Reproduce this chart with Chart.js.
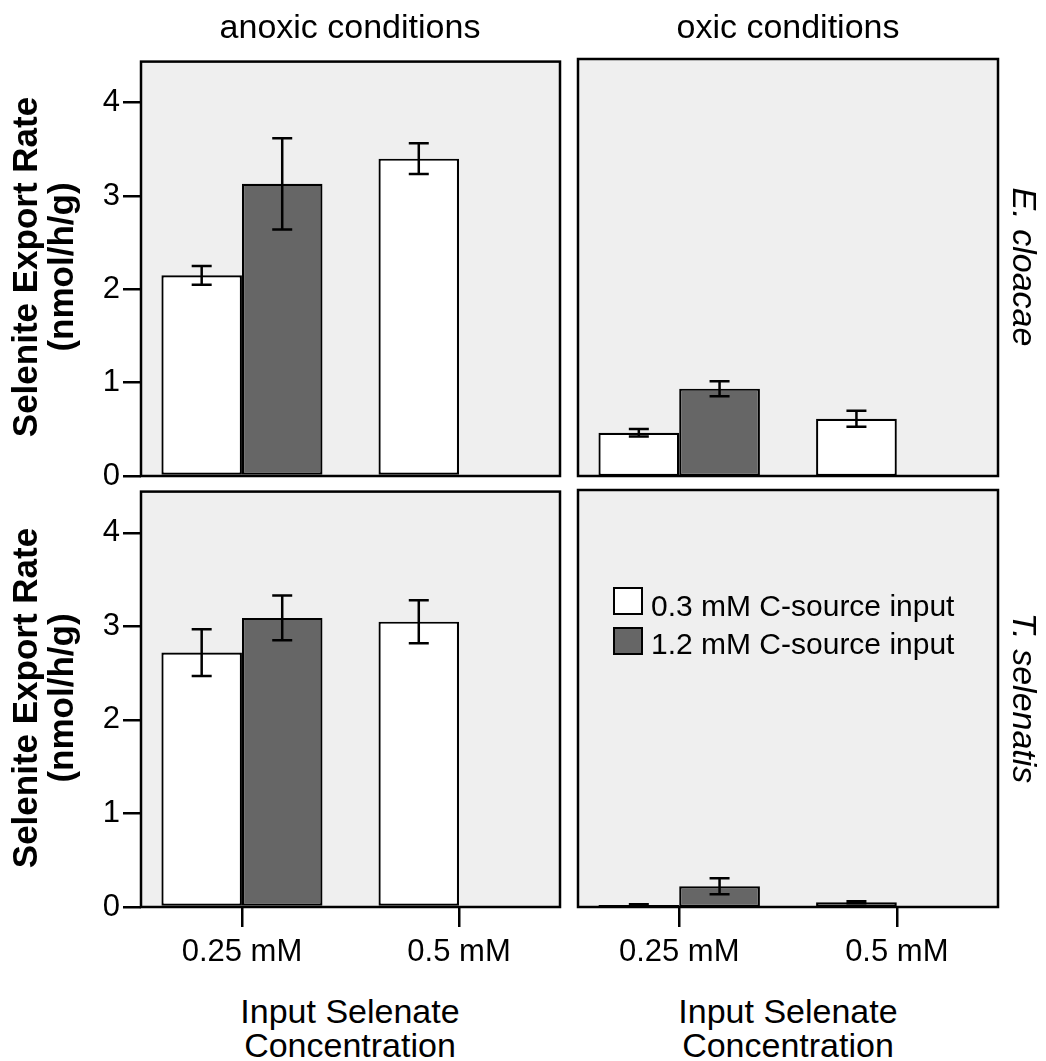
<!DOCTYPE html>
<html>
<head>
<meta charset="utf-8">
<title>Selenite export rate</title>
<script src="https://cdn.jsdelivr.net/npm/chart.js@4"></script>
<style>
  body { margin: 0; width: 1046px; height: 1061px; background: #fff; position: relative; overflow: hidden;
         font-family: "Liberation Sans", Arial, sans-serif; color: #000; }
  .panel { position: absolute; }
  .txt { position: absolute; white-space: nowrap; text-align: center; }
  .facet { font-size: 34px; line-height: 34px; width: 420px; }
  .ytitle { font-size: 35px; font-weight: bold; line-height: 36px; width: 417px; height: 72px;
            transform: rotate(-90deg); }
  .strip { font-size: 34px; font-style: italic; line-height: 34px; width: 417px; height: 34px;
           transform: rotate(90deg); }
  .xtitle { font-size: 34px; line-height: 34px; width: 420px; }
  .key { position: absolute; width: 30px; height: 28px; box-sizing: border-box; border: 2px solid #000; }
  .keytxt { position: absolute; font-size: 30px; line-height: 30px; white-space: nowrap; }
</style>
</head>
<body>

<div class="panel" style="left:0;top:40px;width:575px;height:460px"><canvas id="ecAnoxic"></canvas></div>
<div class="panel" style="left:560px;top:40px;width:486px;height:460px"><canvas id="ecOxic"></canvas></div>
<div class="panel" style="left:0;top:470px;width:575px;height:510px"><canvas id="tsAnoxic"></canvas></div>
<div class="panel" style="left:560px;top:470px;width:486px;height:510px"><canvas id="tsOxic"></canvas></div>

<div class="txt facet" style="left:140px;top:9px">anoxic conditions</div>
<div class="txt facet" style="left:578px;top:9px">oxic conditions</div>

<div class="txt ytitle" style="left:-166px;top:231px">Selenite Export Rate<br>(nmol/h/g)</div>
<div class="txt ytitle" style="left:-166px;top:662px">Selenite Export Rate<br>(nmol/h/g)</div>

<div class="txt strip" style="left:816px;top:250px">E. cloacae</div>
<div class="txt strip" style="left:816px;top:681px">T. selenatis</div>

<div class="txt xtitle" style="left:140px;top:994px">Input Selenate<br>Concentration</div>
<div class="txt xtitle" style="left:578px;top:994px">Input Selenate<br>Concentration</div>

<div class="key" style="left:613px;top:587px;background:#fff"></div>
<div class="keytxt" style="left:651px;top:591px">0.3 mM C-source input</div>
<div class="key" style="left:613px;top:627px;background:#666"></div>
<div class="keytxt" style="left:651px;top:629px">1.2 mM C-source input</div>

<script>
var doses = ['0.25 mM', '0.5 mM'];
var yTicks = [0, 1, 2, 3, 4];
var seriesNames = ['0.3 mM C-source input', '1.2 mM C-source input'];

// E. cloacae, anoxic
var ecAnoxicLow = [2.15, 3.40];
var ecAnoxicLowErr = [0.10, 0.165];
var ecAnoxicHigh = [3.13, null];
var ecAnoxicHighErr = [0.49, null];

// E. cloacae, oxic
var ecOxicLow = [0.46, 0.61];
var ecOxicLowErr = [0.04, 0.085];
var ecOxicHigh = [0.93, null];
var ecOxicHighErr = [0.08, null];

// T. selenatis, anoxic
var tsAnoxicLow = [2.72, 3.05];
var tsAnoxicLowErr = [0.25, 0.23];
var tsAnoxicHigh = [3.09, null];
var tsAnoxicHighErr = [0.24, null];

// T. selenatis, oxic
var tsOxicLow = [0.02, 0.05];
var tsOxicLowErr = [0.01, 0.01];
var tsOxicHigh = [0.22, null];
var tsOxicHighErr = [0.085, null];

var FONT = '"Liberation Sans", Arial, sans-serif';

// grey panel background and black frame round the plot area
var framePlugin = {
  id: 'frame',
  beforeDraw: function (chart) {
    var a = chart.chartArea, c = chart.ctx;
    c.save();
    c.fillStyle = '#efefef';
    c.fillRect(a.left, a.top, a.right - a.left, a.bottom - a.top);
    c.restore();
  },
  afterDraw: function (chart) {
    var a = chart.chartArea, c = chart.ctx;
    c.save();
    c.strokeStyle = '#000';
    c.lineWidth = 2.5;
    c.strokeRect(a.left, a.top, a.right - a.left, a.bottom - a.top);
    c.restore();
  }
};

// mean +/- error whiskers on each bar
var errorBars = {
  id: 'errorBars',
  afterDatasetsDraw: function (chart) {
    var c = chart.ctx, y = chart.scales.y;
    c.save();
    c.strokeStyle = '#000';
    c.lineWidth = 2.5;
    chart.data.datasets.forEach(function (ds, i) {
      var meta = chart.getDatasetMeta(i);
      meta.data.forEach(function (bar, j) {
        var v = ds.data[j].y, e = ds.errors[j];
        if (v == null || e == null) return;
        var x = bar.x, top = y.getPixelForValue(v + e), bot = y.getPixelForValue(v - e);
        c.beginPath();
        c.moveTo(x, top); c.lineTo(x, bot);
        c.moveTo(x - 10, top); c.lineTo(x + 10, top);
        c.moveTo(x - 10, bot); c.lineTo(x + 10, bot);
        c.stroke();
      });
    });
    c.restore();
  }
};

function points(values) {
  return values.map(function (v, i) { return { x: i, y: v }; });
}

function makePanel(id, low, lowErr, high, highErr, showY, showX, pad) {
  new Chart(document.getElementById(id), {
    type: 'bar',
    data: {
      datasets: [
        { label: seriesNames[0], data: points(low), errors: lowErr,
          backgroundColor: '#ffffff', borderColor: '#000', borderWidth: 2.2, borderSkipped: false },
        { label: seriesNames[1], data: points(high), errors: highErr,
          backgroundColor: '#666666', borderColor: '#000', borderWidth: 2.2, borderSkipped: false }
      ]
    },
    options: {
      responsive: true,
      maintainAspectRatio: false,
      animation: false,
      layout: { padding: pad },
      datasets: { bar: { categoryPercentage: 0.742, barPercentage: 1 } },
      plugins: { legend: { display: false }, tooltip: { enabled: false } },
      scales: {
        x: {
          type: 'linear', min: -0.465, max: 1.465, display: showX, offset: false,
          afterBuildTicks: function (s) { s.ticks = doses.map(function (d, i) { return { value: i }; }); },
          afterFit: function (s) { if (showX) s.height = 60; },
          ticks: { callback: function (v) { return doses[v]; }, font: { size: 31, family: FONT },
                   color: '#000', padding: 7, maxRotation: 0, autoSkip: false },
          grid: { offset: false, drawOnChartArea: false, tickLength: 20, color: '#000', lineWidth: 2.5 },
          border: { display: false }
        },
        y: {
          min: 0, max: 4.44, display: showY,
          afterBuildTicks: function (s) { s.ticks = yTicks.map(function (v) { return { value: v }; }); },
          afterFit: function (s) { if (showY) s.width = 141; },
          ticks: { font: { size: 31, family: FONT }, color: '#000', padding: 3 },
          grid: { drawOnChartArea: false, tickLength: 18, color: '#000', lineWidth: 2.5 },
          border: { display: false }
        }
      }
    },
    plugins: [framePlugin, errorBars]
  });
}

makePanel('ecAnoxic', ecAnoxicLow, ecAnoxicLowErr, ecAnoxicHigh, ecAnoxicHighErr, true, false,
  { top: 19, right: 15, bottom: 24, left: 0 });
makePanel('ecOxic', ecOxicLow, ecOxicLowErr, ecOxicHigh, ecOxicHighErr, false, false,
  { top: 19, right: 48, bottom: 24, left: 18 });
makePanel('tsAnoxic', tsAnoxicLow, tsAnoxicLowErr, tsAnoxicHigh, tsAnoxicHighErr, true, true,
  { top: 20, right: 15, bottom: 13, left: 0 });
makePanel('tsOxic', tsOxicLow, tsOxicLowErr, tsOxicHigh, tsOxicHighErr, false, true,
  { top: 20, right: 48, bottom: 13, left: 18 });
</script>
</body>
</html>
